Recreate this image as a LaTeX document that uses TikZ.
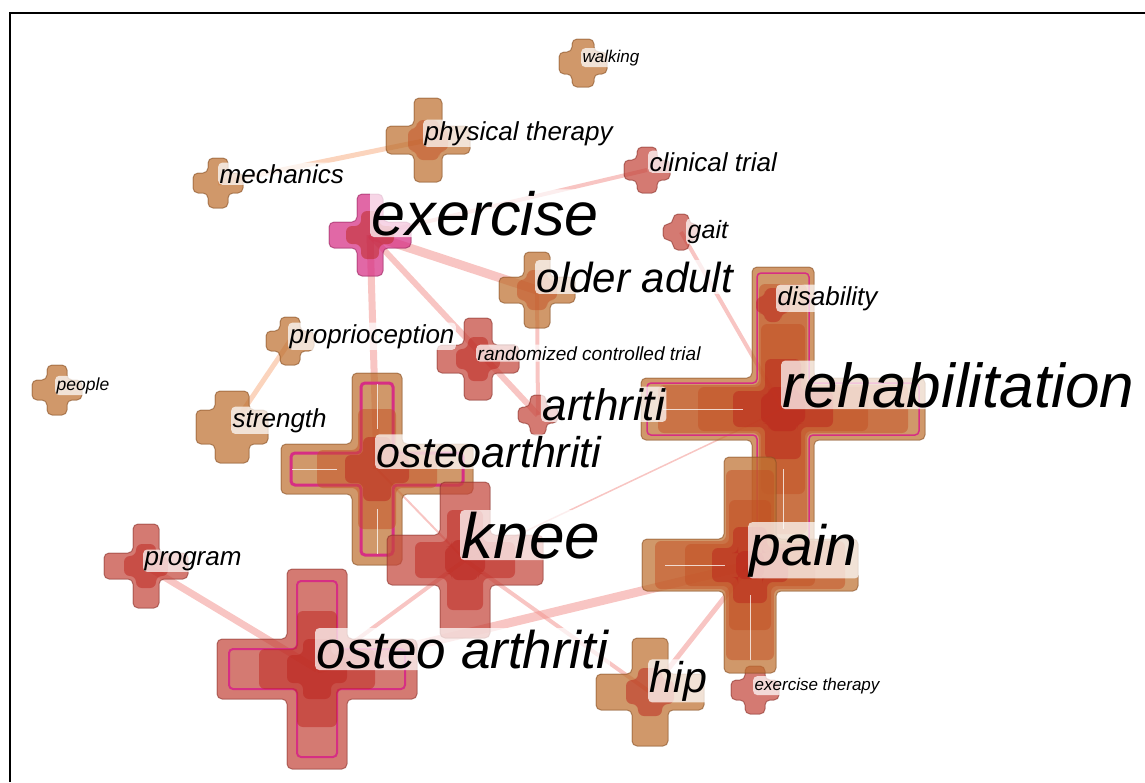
\documentclass[tikz,border=0pt]{standalone}
\usepackage{fontspec}
\setmainfont{Liberation Sans}
\usetikzlibrary{calc}

\definecolor{kwtan}{RGB}{190,112,48}
\definecolor{kwrust}{RGB}{196,80,36}
\definecolor{kwred}{RGB}{188,36,28}
\definecolor{kwsalmon}{RGB}{196,70,60}
\definecolor{kwmagenta}{RGB}{214,46,132}
\definecolor{kwpink}{RGB}{242,150,145}
\definecolor{kwpeach}{RGB}{250,205,178}

\newcommand{\kwsize}[1]{\fontsize{#1}{#1}\selectfont}
% plus sign round a centre: centre, arm, half width, style
\newcommand{\kwplus}[4]{%
  \path[#4] ($(#1)+(-#3,-#2)$) -- ($(#1)+(#3,-#2)$) -- ($(#1)+(#3,-#3)$) -- ($(#1)+(#2,-#3)$)
    -- ($(#1)+(#2,#3)$) -- ($(#1)+(#3,#3)$) -- ($(#1)+(#3,#2)$) -- ($(#1)+(-#3,#2)$)
    -- ($(#1)+(-#3,#3)$) -- ($(#1)+(-#2,#3)$) -- ($(#1)+(-#2,-#3)$) -- ($(#1)+(-#3,-#3)$) -- cycle;}

\begin{document}
\begin{tikzpicture}[x=1pt,y=-1pt,
  kwarm/.style={fill=#1, draw=#1!70!black, fill opacity=.72, draw opacity=.6, line width=1pt, rounded corners=5pt},
  kwcore/.style={fill=#1, fill opacity=.5, rounded corners=6pt},
  kwring/.style={draw=kwmagenta, line width=#1, rounded corners=4pt},
  kwmid/.style={draw=white, line width=.8pt, opacity=.75},
  kwlink/.style={draw=kwpink, line width=#1, opacity=.55},
  kwsoft/.style={draw=kwpeach, line width=#1, opacity=.85},
  kwlabel/.style={anchor=base west, inner sep=1.5pt, fill=white, fill opacity=.72, text opacity=1,
    rounded corners=4pt, font={\kwsize{#1}\itshape}}]
\useasboundingbox (0,0) rectangle (1145,782);
\draw[line width=2.6pt] (10,782) -- (10,13) -- (1145,13);

% keyword centres
\coordinate (walking) at (583,63);
\coordinate (phys) at (428,140);
\coordinate (mech) at (218,183);
\coordinate (clin) at (647,170);
\coordinate (exer) at (370,235);
\coordinate (gait) at (681,232);
\coordinate (older) at (537,290);
\coordinate (disab) at (773,305);
\coordinate (propr) at (290,341);
\coordinate (rct) at (478,359);
\coordinate (people) at (57,390);
\coordinate (rehab) at (783,409);
\coordinate (arth) at (538,415);
\coordinate (strength) at (232,427);
\coordinate (oa) at (377,469);
\coordinate (knee) at (465,560);
\coordinate (pain) at (750,565);
\coordinate (program) at (146,566);
\coordinate (osteo) at (317,669);
\coordinate (hip) at (650,692);
\coordinate (exther) at (755,690);

% links
\draw[kwsoft=5] (mech) -- (phys);
\draw[kwsoft=5] (propr) -- (strength);
\draw[kwlink=4] (exer) -- (clin);
\draw[kwlink=9] (exer) -- (older);
\draw[kwlink=7] (exer) -- (oa);
\draw[kwlink=6] (exer) -- (arth);
\draw[kwlink=4] (older) -- (arth);
\draw[kwlink=4] (gait) -- (rehab);
\draw[kwlink=1.5] (rehab) -- (knee);
\draw[kwlink=2] (oa) -- (knee);
\draw[kwlink=4] (knee) -- (osteo);
\draw[kwlink=4] (knee) -- (hip);
\draw[kwlink=9] (osteo) -- (pain);
\draw[kwlink=5] (pain) -- (hip);
\draw[kwlink=7] (program) -- (osteo);

% small crosses
\kwplus{walking}{24}{11}{kwarm=kwtan}
\kwplus{phys}{42}{14}{kwarm=kwtan}
\kwplus{phys}{20}{11}{kwcore=kwrust}
\kwplus{mech}{25}{10}{kwarm=kwtan}
\kwplus{clin}{23}{10}{kwarm=kwsalmon}
\kwplus{gait}{18}{8}{kwarm=kwsalmon}
\kwplus{older}{38}{13}{kwarm=kwtan}
\kwplus{older}{20}{10}{kwcore=kwrust}
\kwplus{propr}{24}{10}{kwarm=kwtan}
\kwplus{people}{25}{10}{kwarm=kwtan}
\kwplus{strength}{36}{17}{kwarm=kwtan}
\kwplus{rct}{41}{14}{kwarm=kwsalmon}
\kwplus{rct}{22}{10}{kwcore=kwred}
\kwplus{arth}{20}{8}{kwarm=kwsalmon}
\kwplus{program}{42}{13}{kwarm=kwsalmon}
\kwplus{program}{22}{10}{kwcore=kwred}
\kwplus{exther}{24}{10}{kwarm=kwsalmon}
\kwplus{exer}{41}{13}{kwarm=kwmagenta}
\kwplus{exer}{24}{9}{kwcore=kwred}

% big crosses
\kwplus{rehab}{142}{31}{kwarm=kwtan}
\kwplus{rehab}{136}{26}{kwring=1.5pt}
\kwplus{rehab}{125}{24}{kwcore=kwrust}
\kwplus{rehab}{85}{22}{kwcore=kwrust}
\kwplus{rehab}{50}{18}{kwcore=kwred}
\kwplus{rehab}{22}{14}{kwcore=kwred}
\draw[kwmid] ($(rehab)+(-120,0)$) -- ($(rehab)+(-40,0)$);
\draw[kwmid] ($(rehab)+(0,60)$) -- ($(rehab)+(0,120)$);
\kwplus{disab}{17}{8}{kwcore=kwred}
\kwplus{pain}{108}{26}{kwarm=kwtan}
\kwplus{pain}{95}{24}{kwcore=kwrust}
\kwplus{pain}{65}{21}{kwcore=kwrust}
\kwplus{pain}{38}{17}{kwcore=kwred}
\kwplus{pain}{14}{12}{kwcore=kwred}
\draw[kwmid] ($(pain)+(-85,0)$) -- ($(pain)+(-25,0)$);
\draw[kwmid] ($(pain)+(0,30)$) -- ($(pain)+(0,95)$);
\kwplus{oa}{96}{25}{kwarm=kwtan}
\kwplus{oa}{86}{16}{kwring=3pt}
\kwplus{oa}{60}{19}{kwcore=kwrust}
\kwplus{oa}{32}{14}{kwcore=kwred}
\draw[kwmid] ($(oa)+(-85,0)$) -- ($(oa)+(-40,0)$);
\draw[kwmid] ($(oa)+(0,-85)$) -- ($(oa)+(0,-40)$);
\draw[kwmid] ($(oa)+(0,40)$) -- ($(oa)+(0,85)$);
\kwplus{knee}{78}{25}{kwarm=kwsalmon}
\kwplus{knee}{50}{18}{kwcore=kwred}
\kwplus{knee}{20}{13}{kwcore=kwred}
\kwplus{osteo}{100}{30}{kwarm=kwsalmon}
\kwplus{osteo}{88}{20}{kwring=2pt}
\kwplus{osteo}{58}{20}{kwcore=kwred}
\kwplus{osteo}{30}{14}{kwcore=kwred}
\kwplus{hip}{54}{18}{kwarm=kwtan}
\kwplus{hip}{24}{12}{kwcore=kwred}

% labels
\node[kwlabel=17] (walkinglbl) at (581,62) {walking};
\node[kwlabel=26] (physlbl) at (423,140) {physical therapy};
\node[kwlabel=26] (mechlbl) at (218,183) {mechanics};
\node[kwlabel=26] (clinlbl) at (648,171) {clinical trial};
\node[kwlabel=61] (exerlbl) at (370,235) {exercise};
\node[kwlabel=25] (gaitlbl) at (686,238) {gait};
\node[kwlabel=42] (olderlbl) at (535,292) {older adult};
\node[kwlabel=26] (disablbl) at (776,305) {disability};
\node[kwlabel=26] (proprlbl) at (288,343) {proprioception};
\node[kwlabel=19] (rctlbl) at (476,360) {randomized controlled trial};
\node[kwlabel=17.5] (peoplelbl) at (55,390) {people};
\node[kwlabel=62] (rehablbl) at (781,407) {rehabilitation};
\node[kwlabel=44] (arthlbl) at (541,420) {arthriti};
\node[kwlabel=26] (strengthlbl) at (231,427) {strength};
\node[kwlabel=43] (oalbl) at (375,467) {osteoarthriti};
\node[kwlabel=64] (kneelbl) at (460,558) {knee};
\node[kwlabel=57] (painlbl) at (748,565) {pain};
\node[kwlabel=26] (programlbl) at (143,565) {program};
\node[kwlabel=53] (osteolbl) at (315,668) {osteo arthriti};
\node[kwlabel=43] (hiplbl) at (648,692) {hip};
\node[kwlabel=17] (extherlbl) at (753,690) {exercise therapy};
\end{tikzpicture}
\end{document}
